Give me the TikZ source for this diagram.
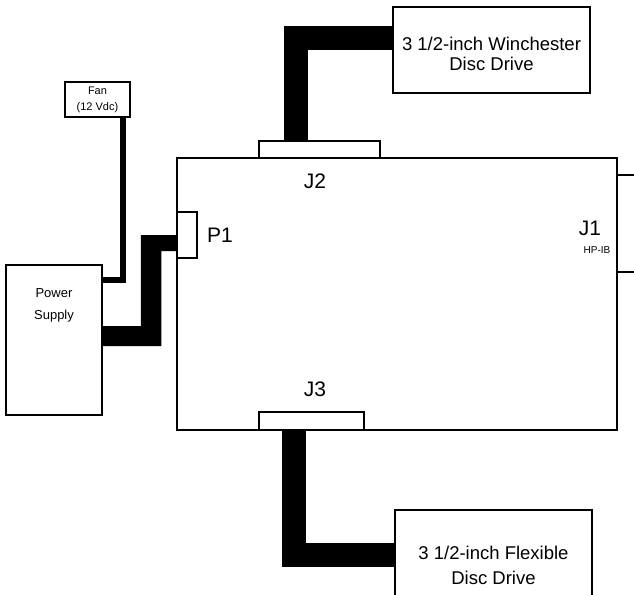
\documentclass[tikz,border=0pt]{standalone}
\usepackage{fontspec}
\setmainfont{Liberation Sans}

\begin{document}
\begin{tikzpicture}[x=1pt,y=-1pt,
	box/.style={draw,line width=1.5pt,fill=white,inner sep=0pt,align=center},
	cable/.style={line width=#1,draw=black},
	lbl/.style={inner sep=0pt,font=\fontsize{21}{23}\selectfont}]
	\useasboundingbox (0,0) rectangle (634,594);

	% Draw main board
	\node[box,minimum width=440pt,minimum height=272pt] (board) at (397,294) {};

	% Draw connectors on the board
	\node[box,minimum width=121pt,minimum height=17pt] (j2) at (319.5,149.5) {};
	\node[box,minimum width=105pt,minimum height=18pt] (j3) at (311.5,421) {};
	\node[box,minimum width=20pt,minimum height=46pt] (p1) at (187,235) {};

	% Draw connector labels
	\node[lbl] (j2lbl) at (315,181) {J2};
	\node[lbl] (j3lbl) at (315,389) {J3};
	\node[lbl] (p1lbl) at (220,235) {P1};
	\node[lbl] (j1lbl) at (590,228) {J1};
	\node[inner sep=0pt,font=\fontsize{10}{12}\selectfont] (hpib) at (597,250) {HP-IB};

	% Draw HP-IB lines
	\coordinate (j1top) at (634,175);
	\coordinate (j1bot) at (634,272);
	\draw[line width=1.5pt] (board.east |- j1top) -- (j1top);
	\draw[line width=1.5pt] (board.east |- j1bot) -- (j1bot);

	% Draw drives
	\node[box,minimum width=197pt,minimum height=86pt,font=\fontsize{18.5}{20}\selectfont] (wdrive) at (491.5,50) {\rule{0pt}{22pt}3 1/2-inch Winchester\\Disc Drive};
	\node[box,minimum width=197pt,minimum height=110pt,font=\fontsize{18.5}{25}\selectfont] (fdrive) at (493.5,565) {3 1/2-inch Flexible\\Disc Drive};

	% Draw fan and power supply
	\node[box,minimum width=65pt,minimum height=35pt,font=\fontsize{11}{16}\selectfont] (fan) at (97.5,99.5) {Fan\\(12 Vdc)};
	\node[box,minimum width=96pt,minimum height=150pt,font=\fontsize{13}{22}\selectfont] (psu) at (54,340) {Power\\Supply\\[50pt]};

	% Draw cables
	\draw[cable=24pt] ([xshift=-23.5pt]j2.north) |- ([yshift=12pt]wdrive.west);
	\draw[cable=24pt] ([xshift=-17.5pt]j3.south) |- ([yshift=10pt]fdrive.west);
	\draw[cable=6pt] ([xshift=25.5pt]fan.south) |- ([yshift=60pt]psu.east);

	% Draw power cable
	\fill ([yshift=14pt]psu.east) -- ++(38pt,0) |- (p1.west) -- ++(0,-16pt)
		-- ++(-15pt,0) |- ([yshift=-6pt]psu.east) -- cycle;
\end{tikzpicture}
\end{document}
